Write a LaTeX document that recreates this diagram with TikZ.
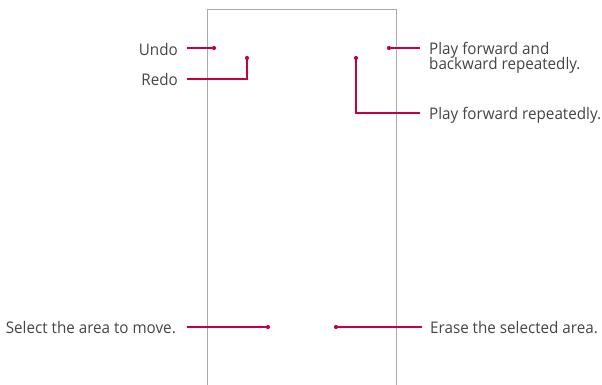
\documentclass[tikz,border=0pt]{standalone}
\usepackage{fontspec}
\setmainfont[FakeStretch=0.95]{Open Sans}
\definecolor{lgred}{HTML}{C8003C}
\definecolor{frame}{HTML}{AAAAAA}
\definecolor{txt}{HTML}{444444}
\newcommand{\mytightlines}{\lineskiplimit=-20pt\relax\lineskip=0pt\relax}
\begin{document}
\begin{tikzpicture}[x=1pt,y=-1pt,
  lbl/.style={inner sep=0pt,font=\fontsize{16}{15.5}\selectfont\mytightlines,text=txt},
  lead/.style={draw=lgred,line width=1.1pt},
  pin/.style={circle,fill=lgred,inner sep=0pt,minimum size=4.2pt}]
\useasboundingbox (0,0) rectangle (602,385);
\draw[frame,line width=0.9pt] (207,385) -- (207,9) -- (396,9) -- (396,385);
% dots
\node[pin] (pundo) at (214,48) {};
\node[pin] (predo) at (247,58) {};
\node[pin] (pboth) at (389,48) {};
\node[pin] (pfwd) at (356,58) {};
\node[pin] (psel) at (268,327) {};
\node[pin] (perase) at (336,327) {};
% labels
\node[lbl,anchor=base east] (undo) at (178,55.5) {Undo};
\node[lbl,anchor=base east] (redo) at (178,85.5) {Redo};
\node[lbl,anchor=base west,align=left] (both) at (429,70) {Play forward and\\backward repeatedly.};
\node[lbl,anchor=base west] (fwd) at (429,120) {Play forward repeatedly.};
\node[lbl,anchor=base east] (sel) at (176,333.5) {Select the area to move.};
\node[lbl,anchor=base west] (erase) at (430,333.5) {Erase the selected area.};
% leaders
\coordinate (cu) at (187,48);
\coordinate (cr) at (187,79);
\coordinate (cb) at (420,48);
\coordinate (cf) at (420,113);
\coordinate (cs) at (187,327);
\coordinate (ce) at (422,327);
\draw[lead] (cu) -- (pundo.center);
\draw[lead] (cr) -| (predo.center);
\draw[lead] (cb) -- (pboth.center);
\draw[lead] (cf) -| (pfwd.center);
\draw[lead] (cs) -- (psel.center);
\draw[lead] (ce) -- (perase.center);
\end{tikzpicture}
\end{document}
